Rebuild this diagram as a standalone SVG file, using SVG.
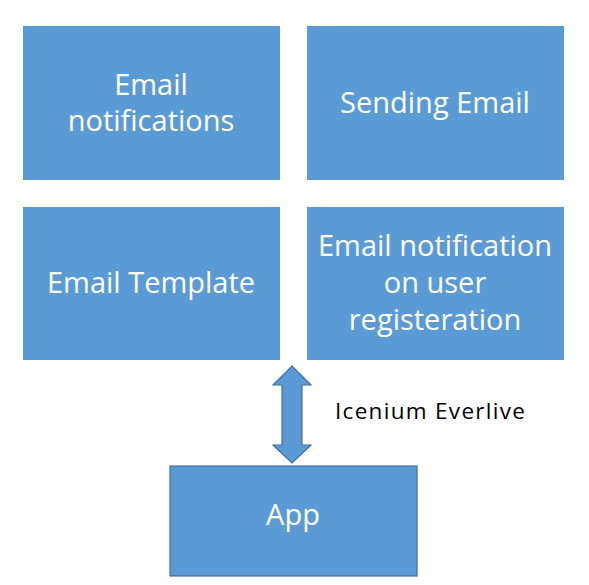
<svg xmlns="http://www.w3.org/2000/svg" width="589" height="585" viewBox="0 0 589 585">
<style>
.box{fill:#5B9BD5}
.app{fill:#5B9BD5;stroke:#41719C;stroke-width:1.2}
.t{fill:#fff;font-family:"Open Sans","Noto Sans",sans-serif;font-size:29px;text-anchor:middle}
.lbl{fill:#000;font-family:"Open Sans","Noto Sans",sans-serif;font-size:22.5px;letter-spacing:1.3px}
</style>
<rect width="589" height="585" fill="#fff"/>
<g id="node-email-notifications">
<rect class="box" x="23" y="26" width="257" height="154"/>
<text class="t" x="151" y="95">Email</text>
<text class="t" x="151" y="131">notifications</text>
</g>
<g id="node-sending-email">
<rect class="box" x="307" y="26" width="257" height="154"/>
<text class="t" x="435" y="113">Sending Email</text>
</g>
<g id="node-email-template">
<rect class="box" x="23" y="207" width="257" height="153"/>
<text class="t" x="151" y="293">Email Template</text>
</g>
<g id="node-email-notification-user">
<rect class="box" x="307" y="207" width="257" height="153"/>
<text class="t" x="435" y="256">Email notification</text>
<text class="t" x="435" y="293">on user</text>
<text class="t" x="435" y="330">registeration</text>
</g>
<g id="node-app">
<rect class="app" x="170" y="466" width="247" height="110"/>
<text class="t" x="293" y="525">App</text>
</g>
<g id="connectors">
<polygon class="app" points="292,366 311,385 302,385 302,445 311,445 292,463 273,445 282,445 282,385 273,385"/>
<text class="lbl" x="335" y="419">Icenium Everlive</text>
</g>
</svg>
